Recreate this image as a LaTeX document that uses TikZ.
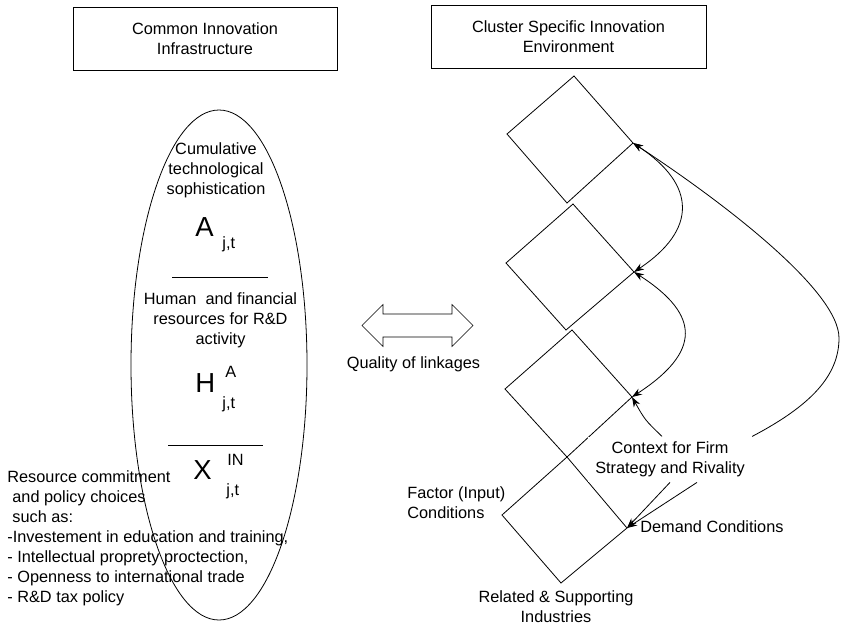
\documentclass[tikz,border=0pt]{standalone}
\usepackage{fontspec}
\setmainfont{Liberation Sans}
\usetikzlibrary{arrows.meta,shapes.geometric}
\newcommand\lblfont{\fontsize{16.3}{20}\selectfont}
\newcommand\bigfont{\fontsize{27.5}{30}\selectfont}
\tikzset{
  lbl/.style={font=\lblfont, inner sep=0pt},
  headbox/.style={draw, line width=1pt, minimum width=#1, minimum height=63pt, align=center, font=\lblfont, inner sep=0pt},
  link/.style={line width=0.8pt, -{Stealth[length=10pt,width=7pt]}},
  twolink/.style={line width=0.8pt, {Stealth[length=10pt,width=7pt]}-{Stealth[length=10pt,width=7pt]}},
}
\begin{document}
\begin{tikzpicture}[x=1pt, y=-1pt, line width=0.8pt]
        \useasboundingbox (0,0) rectangle (841,625);

        % Headings
        \node[headbox=264pt] (common) at (205,38.5) {Common Innovation\\Infrastructure};
        \node[headbox=275pt] (cluster) at (568.5,36.5) {Cluster Specific Innovation\\Environment};

        % Infrastructure ellipse
        \node[draw, ellipse, minimum width=176pt, minimum height=510pt, inner sep=0pt] (infra) at (219,365) {};
        \node[lbl, align=center] (cumul) at (216,169.9) {Cumulative\\technological\\sophistication};
        \node[lbl, anchor=base west, font=\bigfont] (symA) at (195,236) {A};
        \node[lbl, anchor=base west] (subA) at (222,248) {j,t};
        \draw (172,277) -- (268,277);
        \node[lbl, align=center] (human) at (220.5,320.4) {Human\ \ and financial\\resources for R\&D\\activity};
        \node[lbl, anchor=base west, font=\bigfont] (symH) at (195,392) {H};
        \node[lbl, anchor=base west] (supH) at (225,377) {A};
        \node[lbl, anchor=base west] (subH) at (222,408) {j,t};
        \draw (168,445) -- (263,445);
        \node[lbl, anchor=base west, font=\bigfont] (symX) at (193,479) {X};
        \node[lbl, anchor=base west] (supX) at (227,465) {IN};
        \node[lbl, anchor=base west] (subX) at (226,495) {j,t};

        \node[lbl, align=left, anchor=north west] (policy) at (7,470.3) {Resource commitment\\\hspace*{5pt}and policy choices\\\hspace*{5pt}such as:\\-Investement in education and training,\\- Intellectual proprety proctection,\\- Openness to international trade\\- R\&D tax policy};

        % Linkages
        \coordinate (lnk) at (417.5,325.5);
        \draw[line width=0.6pt] (lnk) ++(-55.5,0) -- ++(21,-21) -- ++(0,9.5) -- ++(69,0) -- ++(0,-9.5) -- ++(21,21)
            -- ++(-21,21) -- ++(0,-9.5) -- ++(-69,0) -- ++(0,9.5) -- cycle;
        \node[lbl, anchor=base] (quality) at (413.5,368) {Quality of linkages};

        % Diamonds
        \coordinate (d1t) at (574,76);  \coordinate (d1r) at (633,143);
        \coordinate (d1b) at (567,203); \coordinate (d1l) at (507,134);
        \coordinate (d2t) at (573,204); \coordinate (d2r) at (634,272);
        \coordinate (d2b) at (566,330); \coordinate (d2l) at (506,263);
        \coordinate (d3t) at (572,330); \coordinate (d3r) at (632,397);
        \coordinate (d3b) at (567,457); \coordinate (d3l) at (505,389);
        \coordinate (d4t) at (567,457); \coordinate (d4r) at (627,528);
        \coordinate (d4b) at (561,583); \coordinate (d4l) at (502,515);
        \draw (d1t) -- (d1r) -- (d1b) -- (d1l) -- cycle;
        \draw (d2t) -- (d2r) -- (d2b) -- (d2l) -- cycle;
        \draw (d3t) -- (d3r) -- (d3b) -- (d3l) -- cycle;
        \draw (d4t) -- (d4r) -- (d4b) -- (d4l) -- cycle;

        \node[lbl, align=center, fill=white, inner xsep=7pt, inner ysep=5pt] (rival) at (670,459.4) {Context for Firm\\Strategy and Rivality};
        \node[lbl, align=left, anchor=north west] (factor) at (407,486.1) {Factor (Input)\\Conditions};
        \node[lbl, anchor=base west] (demand) at (640,532) {Demand Conditions};
        \node[lbl, align=center] (related) at (556,606.5) {Related \& Supporting\\Industries};

        % Connectors
        \draw[twolink] (d2r) .. controls (697,230) and (697,185) .. (d1r);
        \draw[twolink] (d3r) .. controls (701,352) and (701,315) .. (d2r);
        \draw[link] ([xshift=-8pt]rival.north) .. controls (645,420) .. (d3r);
        \draw[link] (rival.north east) .. controls (812,405) and (839,375) .. (839,338)
            .. controls (839,290) and (720,200) .. (d1r);
        \draw[link] (rival.south) -- (d4r);
        \draw[link] ([xshift=27pt]rival.south) -- (d4r);

    \end{tikzpicture}
\end{document}
